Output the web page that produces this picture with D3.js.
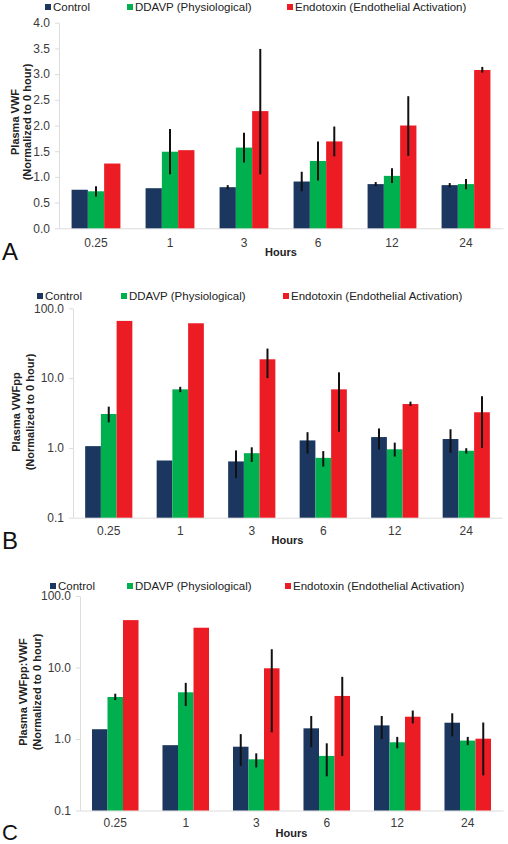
<!DOCTYPE html>
<html><head><meta charset="utf-8">
<script src="https://cdn.jsdelivr.net/npm/d3@7"></script>
<style>
html,body{margin:0;padding:0;background:#fff;}
svg{display:block;font-family:"Liberation Sans",Arial,sans-serif;}
</style></head>
<body>
<svg id="chart" width="508" height="844"></svg>
<script>
// ---------- data ----------
const hours = ["0.25", "1", "3", "6", "12", "24"];
const seriesNames = ["Control", "DDAVP (Physiological)", "Endotoxin (Endothelial Activation)"];
const seriesColors = ["#1b3760", "#00b04f", "#ec1c24"];

// Panel A: Plasma VWF
const vwfControl   = [0.75, 0.78, 0.80, 0.91, 0.86, 0.84];
const vwfControlLo = [null, null, 0.76, 0.72, 0.82, 0.80];
const vwfControlHi = [null, null, 0.84, 1.10, 0.90, 0.88];
const vwfDdavp     = [0.72, 1.49, 1.57, 1.31, 1.02, 0.86];
const vwfDdavpLo   = [0.62, 1.05, 1.28, 0.93, 0.88, 0.76];
const vwfDdavpHi   = [0.82, 1.93, 1.86, 1.69, 1.17, 0.96];
const vwfEndo      = [1.26, 1.52, 2.28, 1.69, 2.00, 3.08];
const vwfEndoLo    = [null, null, 1.05, 1.40, 1.41, 3.03];
const vwfEndoHi    = [null, null, 3.49, 1.98, 2.57, 3.14];
const ticksA = [0, 0.5, 1, 1.5, 2, 2.5, 3, 3.5, 4];

// Panel B: Plasma VWFpp
const ppControl   = [1.06, 0.66, 0.64, 1.28, 1.43, 1.34];
const ppControlLo = [null, null, 0.37, 0.83, 0.95, 0.85];
const ppControlHi = [null, null, 0.92, 1.68, 1.90, 1.85];
const ppDdavp     = [3.06, 6.9, 0.84, 0.72, 0.955, 0.91];
const ppDdavpLo   = [2.32, 6.3, 0.63, 0.54, 0.75, 0.83];
const ppDdavpHi   = [3.9, 7.5, 1.02, 0.90, 1.19, 0.99];
const ppEndo      = [66, 61, 18.6, 6.9, 4.25, 3.24];
const ppEndoLo    = [null, null, 10, 1.7, 4.0, 1.0];
const ppEndoHi    = [null, null, 26.5, 12.1, 4.6, 5.5];

// Panel C: Plasma VWFpp:VWF
const ratioControl   = [1.37, 0.82, 0.78, 1.41, 1.55, 1.69];
const ratioControlLo = [null, null, 0.42, 0.77, 1.0, 1.09];
const ratioControlHi = [null, null, 1.17, 2.1, 2.1, 2.29];
const ratioDdavp     = [3.87, 4.5, 0.52, 0.58, 0.90, 0.95];
const ratioDdavpLo   = [3.5, 2.9, 0.40, 0.30, 0.74, 0.82];
const ratioDdavpHi   = [4.3, 6.1, 0.63, 0.87, 1.07, 1.07];
const ratioEndo      = [46, 36, 9.75, 4.0, 2.05, 1.01];
const ratioEndoLo    = [null, null, 1.24, 0.58, 1.65, 0.31];
const ratioEndoHi    = [null, null, 18, 7.4, 2.5, 1.7];
const ticksLog = [0.1, 1, 10, 100];

// ---------- drawing ----------
const svg = d3.select("#chart");

function drawPanel(cfg) {
  const g = svg.append("g");
  const x0 = d3.scaleBand().domain(hours).range([cfg.left, cfg.right])
    .paddingInner(0.34).paddingOuter(0.17);
  const x1 = d3.scaleBand().domain([0, 1, 2]).range([0, x0.bandwidth()]);
  const y = cfg.log
    ? d3.scaleLog().domain([0.1, 100]).range([cfg.bottom, cfg.top])
    : d3.scaleLinear().domain([0, 4]).range([cfg.bottom, cfg.top]);
  const base = cfg.log ? 0.1 : 0;

  // axes
  const ya = g.append("g").attr("transform", `translate(${cfg.left},0)`)
    .call(d3.axisLeft(y).tickValues(cfg.ticks).tickFormat(d3.format(".1f"))
      .tickSize(4).tickSizeOuter(0).tickPadding(5));
  ya.select(".domain").attr("stroke", "#dcdcdc");
  ya.selectAll(".tick line").attr("stroke", "#dcdcdc");
  ya.selectAll(".tick text").attr("fill", "#3a3a3a").style("font-size", "12px")
    .style("font-family", '"Liberation Sans",Arial,sans-serif');

  const xa = g.append("g").attr("transform", `translate(0,${cfg.bottom})`)
    .call(d3.axisBottom(x0).tickSize(0).tickSizeOuter(0).tickPadding(cfg.xPad));
  xa.select(".domain").attr("stroke", "#dcdcdc");
  xa.selectAll(".tick text").attr("fill", "#3a3a3a").style("font-size", "12px")
    .style("font-family", '"Liberation Sans",Arial,sans-serif');

  // bars
  cfg.series.forEach((s, si) => {
    g.append("g").selectAll("rect").data(s.values).join("rect")
      .attr("x", (d, i) => x0(hours[i]) + x1(si))
      .attr("width", x1.bandwidth())
      .attr("y", d => y(d))
      .attr("height", d => y(base) - y(d))
      .attr("fill", seriesColors[si]);
    g.append("g").selectAll("line").data(s.values.map((d, i) => i).filter(i => s.lo[i] != null)).join("line")
      .attr("x1", i => x0(hours[i]) + x1(si) + x1.bandwidth() / 2)
      .attr("x2", i => x0(hours[i]) + x1(si) + x1.bandwidth() / 2)
      .attr("y1", i => y(s.lo[i]))
      .attr("y2", i => y(s.hi[i]))
      .attr("stroke", "#111").attr("stroke-width", 2);
  });

  // legend
  const lg = g.append("g");
  seriesNames.forEach((n, i) => {
    lg.append("rect").attr("x", cfg.legendX[i]).attr("y", cfg.legendY - 3)
      .attr("width", 6).attr("height", 6).attr("fill", seriesColors[i]);
    lg.append("text").attr("x", cfg.legendX[i] + 8).attr("y", cfg.legendY + 4)
      .attr("fill", "#222").style("font-size", "11.5px").text(n);
  });

  // y title
  cfg.yTitle.forEach((t, i) => {
    g.append("text")
      .attr("transform", `translate(${cfg.yTitleX[i]},${cfg.yTitleY}) rotate(-90)`)
      .attr("text-anchor", "middle").attr("dominant-baseline", "central")
      .style("font-size", "11px").style("font-weight", "bold").attr("fill", "#222").text(t);
  });
  // x title
  g.append("text").attr("x", (cfg.left + cfg.right) / 2).attr("y", cfg.xTitleY)
    .attr("text-anchor", "middle").style("font-size", "11px").style("font-weight", "bold")
    .attr("fill", "#222").text("Hours");
  // panel letter
  g.append("text").attr("x", 2).attr("y", cfg.letterY).style("font-size", cfg.letterSize || "24px")
    .attr("fill", "#111").text(cfg.letter);
}

drawPanel({
  left: 59, right: 503, top: 22.7, bottom: 228.3, log: false, ticks: ticksA,
  series: [
    {values: vwfControl, lo: vwfControlLo, hi: vwfControlHi},
    {values: vwfDdavp, lo: vwfDdavpLo, hi: vwfDdavpHi},
    {values: vwfEndo, lo: vwfEndoLo, hi: vwfEndoHi}
  ],
  legendX: [45, 127, 287], legendY: 7,
  yTitle: ["Plasma VWF", "(Normalized to 0 hour)"], yTitleX: [14.5, 26.5], yTitleY: 122,
  xPad: 10, xTitleY: 256, letter: "A", letterY: 260
});

drawPanel({
  left: 73, right: 502, top: 308.3, bottom: 517.7, log: true, ticks: ticksLog,
  series: [
    {values: ppControl, lo: ppControlLo, hi: ppControlHi},
    {values: ppDdavp, lo: ppDdavpLo, hi: ppDdavpHi},
    {values: ppEndo, lo: ppEndoLo, hi: ppEndoHi}
  ],
  legendX: [37, 121, 283], legendY: 296,
  yTitle: ["Plasma VWFpp", "(Normalized to 0 hour)"], yTitleX: [16, 29.5], yTitleY: 412,
  xPad: 9, xTitleY: 544, letter: "B", letterY: 549
});

drawPanel({
  left: 80, right: 503, top: 596, bottom: 810.5, log: true, ticks: ticksLog,
  series: [
    {values: ratioControl, lo: ratioControlLo, hi: ratioControlHi},
    {values: ratioDdavp, lo: ratioDdavpLo, hi: ratioDdavpHi},
    {values: ratioEndo, lo: ratioEndoLo, hi: ratioEndoHi}
  ],
  legendX: [50, 127, 285], legendY: 586,
  yTitle: ["Plasma VWFpp:VWF", "(Normalized to 0 hour)"], yTitleX: [23, 36.5], yTitleY: 692,
  xPad: 8, xTitleY: 837, letter: "C", letterY: 840, letterSize: "22px"
});
</script>
</body></html>
